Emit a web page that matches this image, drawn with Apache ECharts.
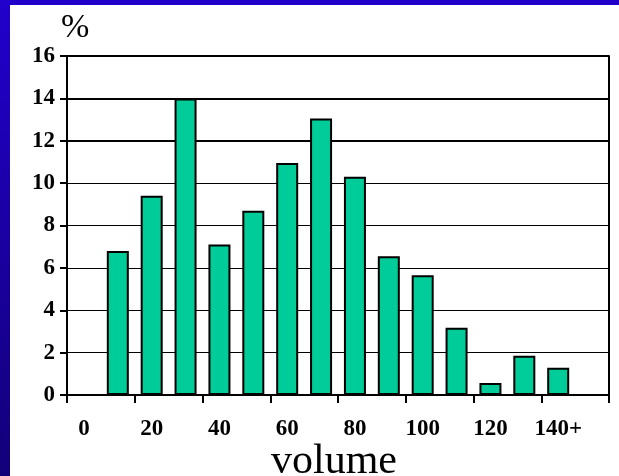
<!DOCTYPE html>
<html>
<head>
<meta charset="utf-8">
<script src="https://cdn.jsdelivr.net/npm/echarts@6/dist/echarts.min.js"></script>
<style>
html,body{margin:0;padding:0;background:#fff;}
#c{width:619px;height:476px;}
</style>
</head>
<body>
<div id="c"></div>
<script>
// Data
const categories = ['0','10','20','30','40','50','60','70','80','90','100','110','120','130','140+','150'];
const values = [null, 6.8, 9.4, 14.0, 7.1, 8.7, 10.95, 13.05, 10.3, 6.55, 5.65, 3.17, 0.57, 1.85, 1.29, null];
const tickLabels = ['0','20','40','60','80','100','120','140+'];
const yTicks = [0, 2, 4, 6, 8, 10, 12, 14, 16];
const yUnit = '%';
const xTitle = 'volume';

const chart = echarts.init(document.getElementById('c'), null, {renderer: 'canvas'});
const labelFont = {fontFamily: 'Liberation Serif', fontWeight: 'bold', fontSize: 23, color: '#000'};
const thick = yTicks.map(v => v >= 12 ? '#000' : 'rgba(0,0,0,0)');

chart.setOption({
  animation: false,
  backgroundColor: new echarts.graphic.LinearGradient(0, 0, 0, 1, [
    {offset: 0, color: '#2200CC'}, {offset: 1, color: '#120078'}
  ]),
  graphic: [
    {type: 'rect', z: -10, shape: {x: 10, y: 5, width: 609, height: 471}, style: {fill: '#fff'}},
    {type: 'text', left: 61, top: 11, style: {text: yUnit, font: '34px "Liberation Serif"', fill: '#000'}},
    {type: 'text', x: 334, y: 462, style: {text: xTitle, font: '42px "Liberation Serif"', fill: '#000', align: 'center', verticalAlign: 'middle'}}
  ],
  grid: {left: 67, right: 10, top: 56, bottom: 81, containLabel: false},
  xAxis: {
    type: 'category',
    data: categories,
    boundaryGap: true,
    axisLine: {show: true, lineStyle: {color: '#000', width: 2}},
    axisTick: {show: true, length: 8, interval: (i) => i % 2 === 0, lineStyle: {color: '#000', width: 2}},
    axisLabel: Object.assign({
      interval: (i) => i % 2 === 0,
      margin: 23,
      formatter: (v, i) => tickLabels[i / 2]
    }, labelFont),
    splitLine: {show: false}
  },
  yAxis: [
    {
      type: 'value', min: 0, max: 16, interval: 2,
      axisLine: {show: true, lineStyle: {color: '#000', width: 2}},
      axisTick: {show: true, length: 7, lineStyle: {color: '#000', width: 2}},
      axisLabel: Object.assign({margin: 12}, labelFont),
      splitLine: {show: true, lineStyle: {color: '#000', width: 1}}
    },
    {
      type: 'value', min: 0, max: 16, interval: 2, position: 'right',
      axisLine: {show: true, lineStyle: {color: '#000', width: 2}},
      axisTick: {show: false},
      axisLabel: {show: false},
      splitLine: {show: true, lineStyle: {color: thick, width: 2}}
    }
  ],
  series: [{
    type: 'bar',
    data: values,
    barWidth: 22,
    itemStyle: {color: '#00CC99', borderColor: '#000', borderWidth: 2}
  }]
});
</script>
</body>
</html>
